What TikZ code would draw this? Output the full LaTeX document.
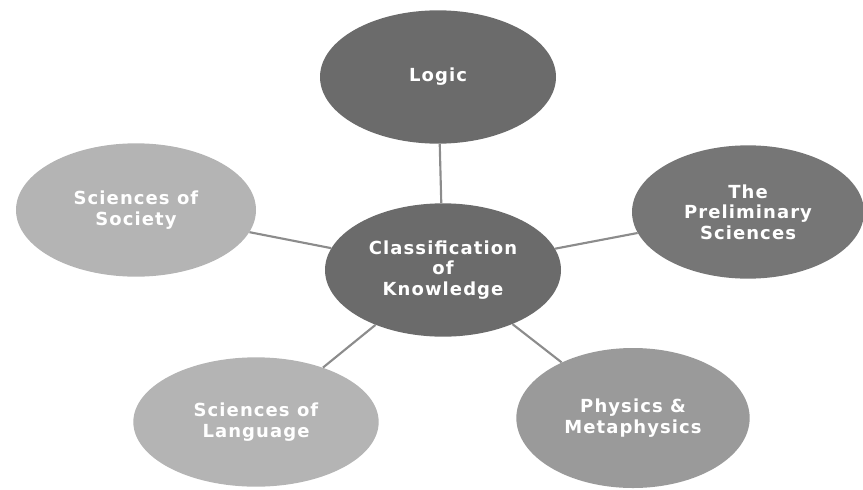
\documentclass[tikz,border=0pt]{standalone}
\usepackage{fontspec}
\setsansfont{DejaVu Sans}[LetterSpace=6]
\usepackage{tikz}
\usetikzlibrary{shapes.geometric}
\definecolor{DarkGrey}{HTML}{6B6B6B}
\definecolor{MidGrey}{HTML}{767676}
\definecolor{SoftGrey}{HTML}{9A9A9A}
\definecolor{PaleGrey}{HTML}{B4B4B4}
\definecolor{LinkGrey}{HTML}{8C8C8C}

\begin{document}
\begin{tikzpicture}[x=.75pt, y=-.75pt, font=\sffamily\bfseries\fontsize{13.5}{15.5}\selectfont]
\tikzset{bubble/.style={ellipse, draw=none, text=white, align=center, inner sep=0pt, minimum width=180pt, minimum height=100pt}, darkbubble/.style={bubble, fill=DarkGrey}, midbubble/.style={bubble, fill=MidGrey}, softbubble/.style={bubble, fill=SoftGrey}, palebubble/.style={bubble, fill=PaleGrey}, link/.style={draw=LinkGrey, line width=1.6pt}}
\useasboundingbox (0,0) rectangle (863,489);
\node[darkbubble, minimum width=177pt] (know) at (443,270) {Classification\\of\\Knowledge};
\node[darkbubble, minimum width=177pt] (logic) at (438,77) {Logic};
\node[palebubble] (society) at (136,210) {Sciences of\\Society};
\node[midbubble, minimum width=174pt] (prelim) at (748,212) {The\\Preliminary\\Sciences};
\node[palebubble, minimum width=184pt, minimum height=97pt] (language) at (256,422) {Sciences of\\Language};
\node[softbubble, minimum width=175pt, minimum height=105pt] (physics) at (633,418) {Physics \&\\Metaphysics};
\foreach \n in {logic,society,prelim,language,physics} \draw[link] (know)--(\n);
\end{tikzpicture}
\end{document}
